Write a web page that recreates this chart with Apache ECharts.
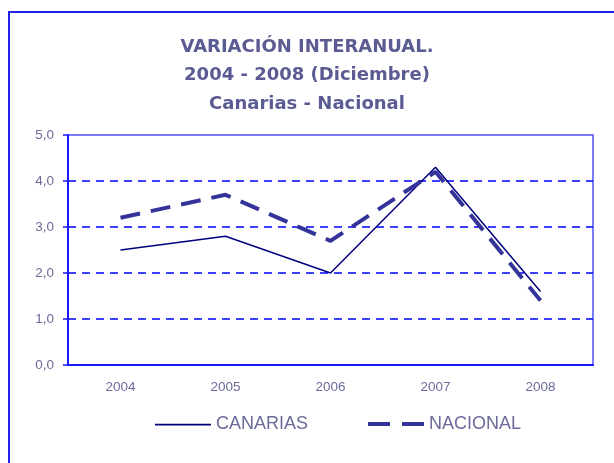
<!DOCTYPE html>
<html>
<head>
<meta charset="utf-8">
<script src="https://cdn.jsdelivr.net/npm/echarts@6/dist/echarts.min.js"></script>
<style>
  html, body { margin: 0; padding: 0; background: #fff; }
  #chart { width: 614px; height: 463px; }
</style>
</head>
<body>
<div id="chart"></div>
<script>
// Variación interanual, diciembre de cada año
const years = ['2004', '2005', '2006', '2007', '2008'];
const canarias = [2.5, 2.8, 2.0, 4.3, 1.6];
const nacional = [3.2, 3.7, 2.7, 4.2, 1.4];
const titleLines = ['VARIACIÓN INTERANUAL.', '2004 - 2008 (Diciembre)', 'Canarias - Nacional'];

const textColor = '#6b6b9b';
const axisBlue = '#1a1aff';

const chart = echarts.init(document.getElementById('chart'));

chart.setOption({
    backgroundColor: '#fff',
    animation: false,
    title: {
        text: titleLines.join('\n'),
        left: 'center',
        top: 28,
        textStyle: {
            fontFamily: 'DejaVu Sans',
            fontWeight: 'bold',
            fontSize: 18,
            lineHeight: 28.5,
            color: '#5b5b93'
        }
    },
    // outer frame, it runs off the right and bottom edge
    graphic: [{
        type: 'rect',
        shape: { x: 9, y: 12, width: 700, height: 600 },
        style: { fill: 'none', stroke: '#2222e6', lineWidth: 2 },
        silent: true
    }],
    legend: {
        left: 150,
        top: 410,
        itemWidth: 56,
        itemHeight: 4,
        itemGap: 60,
        textStyle: {
            fontFamily: 'Liberation Sans',
            fontSize: 18,
            color: textColor
        },
        data: [
            { name: 'CANARIAS', icon: 'path://M0,0L0,0M0,1.1H56V2.9H0Z', itemStyle: { color: '#000080' } },
            { name: 'NACIONAL', icon: 'path://M0,0H22V4H0ZM34,0H56V4H34Z', itemStyle: { color: '#333399' } }
        ]
    },
    grid: {
        left: 68,
        right: 21,
        top: 135,
        bottom: 98,
        show: true,
        borderColor: '#5050ff',
        borderWidth: 1.5,
        backgroundColor: 'transparent'
    },
    xAxis: {
        type: 'category',
        data: years,
        boundaryGap: true,
        axisLine: { lineStyle: { color: axisBlue, width: 2 } },
        axisTick: { length: 5, lineStyle: { color: axisBlue, width: 1.5 } },
        axisLabel: {
            margin: 15,
            fontFamily: 'Liberation Sans',
            fontSize: 13.5,
            color: textColor
        }
    },
    yAxis: {
        type: 'value',
        min: 0,
        max: 5,
        interval: 1,
        axisLine: { show: true, lineStyle: { color: axisBlue, width: 2 } },
        axisTick: { show: true, length: 5, lineStyle: { color: axisBlue, width: 1.5 } },
        axisLabel: {
            margin: 14,
            fontFamily: 'Liberation Sans',
            fontSize: 13.5,
            color: textColor,
            formatter: v => v.toFixed(1).replace('.', ',')
        },
        splitLine: {
            show: true,
            showMinLine: false,
            showMaxLine: false,
            lineStyle: { color: ['rgb(0,0,255)'], width: 1.5, type: [8, 6] }
        }
    },
    series: [
        {
            name: 'CANARIAS',
            type: 'line',
            data: canarias,
            symbol: 'none',
            lineStyle: { color: '#000080', width: 1.5 },
            itemStyle: { color: '#000080' }
        },
        {
            name: 'NACIONAL',
            type: 'line',
            data: nacional,
            symbol: 'none',
            lineStyle: { color: '#333399', width: 4, type: [20, 11] },
            itemStyle: { color: '#333399' }
        }
    ]
});
</script>
</body>
</html>
